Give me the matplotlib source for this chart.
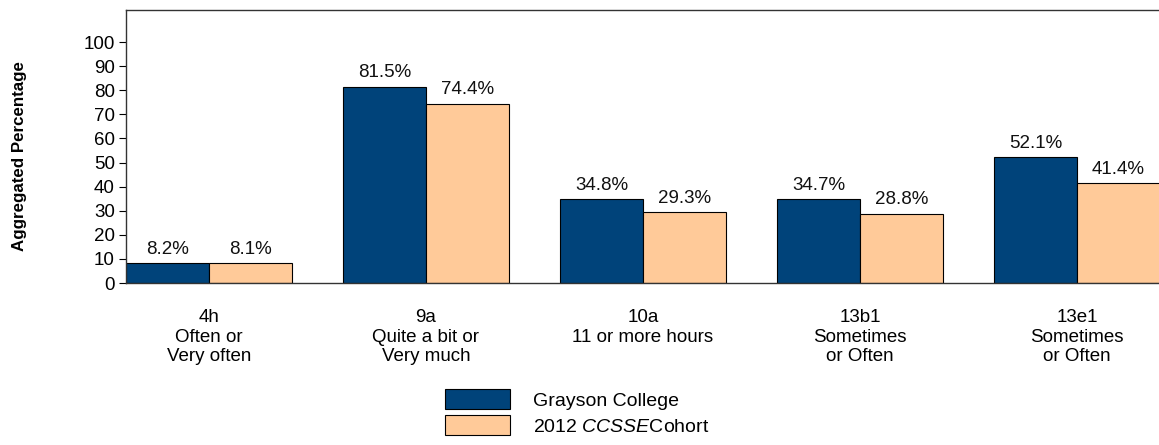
import matplotlib
matplotlib.use("Agg")
import matplotlib.pyplot as plt
from matplotlib.patches import Patch
import numpy as np

plt.rcParams['font.family'] = ['Liberation Sans', 'DejaVu Sans']
plt.rcParams['mathtext.fontset'] = 'custom'
plt.rcParams['mathtext.rm'] = 'Liberation Sans'
plt.rcParams['mathtext.it'] = 'Liberation Sans:italic'

# data
categories = ["4h\nOften or\nVery often",
              "9a\nQuite a bit or\nVery much",
              "10a\n11 or more hours",
              "13b1\nSometimes\nor Often",
              "13e1\nSometimes\nor Often"]
college = [8.2, 81.5, 34.8, 34.7, 52.1]
cohort = [8.1, 74.4, 29.3, 28.8, 41.4]
series_names = ["Grayson College", "2012 $\\mathit{CCSSE}$Cohort"]
yticks = list(range(0, 101, 10))

blue = "#00437A"
peach = "#FFCA99"

fig = plt.figure(figsize=(11.59, 4.45), dpi=100)
ax = fig.add_axes([126 / 1159, 1 - 283 / 445, 1 - 126 / 1159, (283 - 10) / 445])

x = np.arange(len(categories))
w = 0.3825
b1 = ax.bar(x - w / 2, college, w, color=blue, edgecolor="black", linewidth=0.8)
b2 = ax.bar(x + w / 2, cohort, w, color=peach, edgecolor="black", linewidth=0.8)

for bars, vals in ((b1, college), (b2, cohort)):
    for r, v in zip(bars, vals):
        ax.annotate(f"{v:.1f}%", (r.get_x() + r.get_width() / 2, v),
                    xytext=(0, 4), textcoords="offset points",
                    ha="center", va="bottom", fontsize=13.5, color="#111111")

ax.set_xlim(-0.382, 4.378)
ax.set_ylim(0, 113.3)
ax.set_yticks(yticks)
ax.tick_params(axis="y", labelsize=13.5, length=5, width=0.8, pad=3)
ax.set_xticks(x)
ax.set_xticklabels(categories, fontsize=13.5, linespacing=1.18)
ax.tick_params(axis="x", length=0, pad=19)
ax.spines["right"].set_visible(False)
for s in ("left", "top", "bottom"):
    ax.spines[s].set_linewidth(1.0)
    ax.spines[s].set_color("#333333")

fig.text(20 / 1159, 1 - 156 / 445, "Aggregated Percentage", rotation=90,
         ha="center", va="center", fontsize=12.2, fontweight="bold")

handles = [Patch(facecolor=blue, edgecolor="black", linewidth=0.8),
           Patch(facecolor=peach, edgecolor="black", linewidth=0.8)]
fig.legend(handles, series_names, loc="upper left",
           bbox_to_anchor=(445 / 1159, 1 - 389 / 445), frameon=False,
           borderpad=0, borderaxespad=0, fontsize=14,
           handlelength=3.35, handleheight=1.24, labelspacing=0.26,
           handletextpad=1.2)

fig.savefig("out.png", dpi=100)
